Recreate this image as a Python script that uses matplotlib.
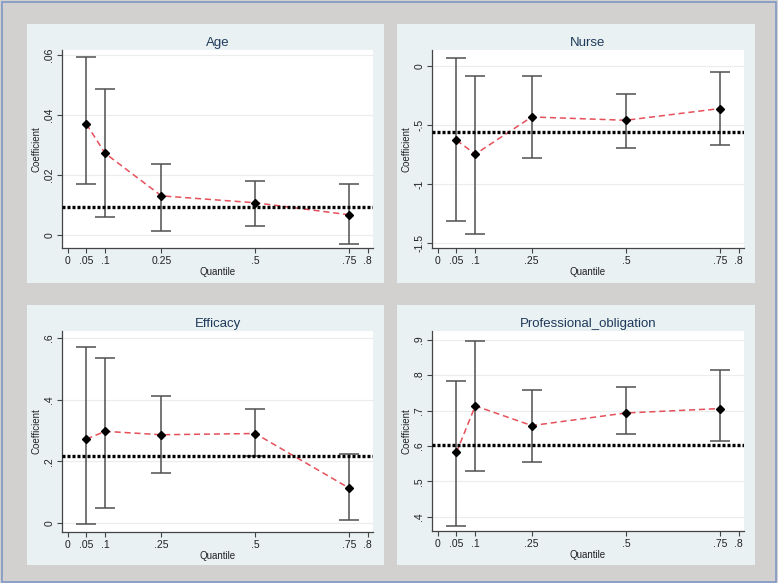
import matplotlib
matplotlib.use("Agg")
import matplotlib.pyplot as plt
from matplotlib.patches import Rectangle

plt.rcParams['font.family'] = ['Liberation Sans', 'DejaVu Sans']

quantiles = [0.05, 0.1, 0.25, 0.5, 0.75]

age_coef = [0.0370, 0.0272, 0.0130, 0.0107, 0.0067]
age_lo = [0.0169, 0.0059, 0.0014, 0.0029, -0.0031]
age_hi = [0.0592, 0.0488, 0.0238, 0.0179, 0.0169]
age_ols = 0.0093

nurse_coef = [-0.629, -0.747, -0.433, -0.461, -0.362]
nurse_lo = [-1.315, -1.424, -0.781, -0.691, -0.669]
nurse_hi = [0.062, -0.090, -0.090, -0.242, -0.053]
nurse_ols = -0.559

eff_coef = [0.272, 0.297, 0.286, 0.290, 0.1135]
eff_lo = [-0.003, 0.049, 0.163, 0.217, 0.011]
eff_hi = [0.570, 0.534, 0.411, 0.369, 0.223]
eff_ols = 0.216

prof_coef = [0.582, 0.713, 0.6575, 0.693, 0.7055]
prof_lo = [0.3756, 0.529, 0.554, 0.633, 0.614]
prof_hi = [0.7825, 0.897, 0.759, 0.7675, 0.8145]
prof_ols = 0.604

xticks = [0, 0.05, 0.1, 0.25, 0.5, 0.75, 0.8]
xlabels_age = ["0", ".05", ".1", "0.25", ".5", ".75", ".8"]
xlabels = ["0", ".05", ".1", ".25", ".5", ".75", ".8"]

W, H = 778, 583
BG = "#d3d0d0"
PANEL = "#e9f1f3"

fig = plt.figure(figsize=(W / 100, H / 100), dpi=100, facecolor=BG)

# outer blue frame
fig.patches.append(Rectangle((1.5 / W, 1.5 / H), 1 - 3.5 / W, 1 - 3.5 / H,
                             transform=fig.transFigure, facecolor="none",
                             edgecolor="#7f97c3", lw=1.2, zorder=10))

def px(x0, y0, x1, y1):
    return [x0 / W, 1 - y1 / H, (x1 - x0) / W, (y1 - y0) / H]

panels = [
    dict(box=(27, 24, 384, 283), ax=(62, 50, 373, 248), title="Age",
         coef=age_coef, lo=age_lo, hi=age_hi, ols=age_ols,
         ylim=(-0.0044, 0.0617), yticks=[0, 0.02, 0.04, 0.06],
         ylabels=["0", ".02", ".04", ".06"], xlabels=xlabels_age),
    dict(box=(397, 24, 755, 283), ax=(432, 50, 744, 248), title="Nurse",
         coef=nurse_coef, lo=nurse_lo, hi=nurse_hi, ols=nurse_ols,
         ylim=(-1.539, 0.132), yticks=[-1.5, -1, -0.5, 0],
         ylabels=["-1.5", "-1", "-.5", "0"], xlabels=xlabels),
    dict(box=(27, 305, 384, 565), ax=(62, 331, 373, 532), title="Efficacy",
         coef=eff_coef, lo=eff_lo, hi=eff_hi, ols=eff_ols,
         ylim=(-0.029, 0.622), yticks=[0, 0.2, 0.4, 0.6],
         ylabels=["0", ".2", ".4", ".6"], xlabels=xlabels),
    dict(box=(397, 305, 755, 565), ax=(432, 331, 744, 531), title="Professional_obligation",
         coef=prof_coef, lo=prof_lo, hi=prof_hi, ols=prof_ols,
         ylim=(0.3605, 0.924), yticks=[0.4, 0.5, 0.6, 0.7, 0.8, 0.9],
         ylabels=[".4", ".5", ".6", ".7", ".8", ".9"], xlabels=xlabels),
]

for p in panels:
    x0, y0, x1, y1 = p["box"]
    fig.patches.append(Rectangle((x0 / W, 1 - y1 / H), (x1 - x0) / W, (y1 - y0) / H,
                                 transform=fig.transFigure, facecolor=PANEL,
                                 edgecolor="none", zorder=-5))

    ax = fig.add_axes(px(*p["ax"]))
    ax.set_facecolor("white")
    ax.set_xlim(-0.015, 0.814)
    ax.set_ylim(*p["ylim"])

    for yt in p["yticks"]:
        ax.axhline(yt, color="#ececec", lw=0.8, zorder=0)

    err_lo = [c - l for c, l in zip(p["coef"], p["lo"])]
    err_hi = [h - c for c, h in zip(p["coef"], p["hi"])]
    ax.errorbar(quantiles, p["coef"], yerr=[err_lo, err_hi], fmt="none",
                ecolor="#505050", elinewidth=1.1, capsize=7.5, capthick=1.1, zorder=2)
    ax.plot(quantiles, p["coef"], color="#e5505a", lw=1.1, dashes=(4, 2.5), zorder=3)
    ax.axhline(p["ols"], color="black", lw=2.4, dashes=(0.9, 0.6), zorder=4)
    ax.plot(quantiles, p["coef"], "D", color="black", markersize=4.5, zorder=5)

    ax.set_xticks(xticks)
    ax.set_xticklabels(p["xlabels"])
    ax.set_yticks(p["yticks"])
    ax.set_yticklabels(p["ylabels"], rotation=90, va="center")
    ax.tick_params(axis="both", labelsize=7.5, length=3.5, width=0.8,
                   color="#444444", labelcolor="#222222", pad=2)
    for s in ["top", "right"]:
        ax.spines[s].set_visible(False)
    for s in ["left", "bottom"]:
        ax.spines[s].set_color("#444444")
        ax.spines[s].set_linewidth(0.9)

    ax.set_title(p["title"], fontsize=9.5, color="#1f3a5a", pad=3)
    ax.set_xlabel("Quantile", fontsize=7, color="#222222", labelpad=1)
    ax.set_ylabel("Coefficient", fontsize=7, color="#222222", labelpad=2)

fig.savefig("out.png", dpi=100, facecolor=BG)
